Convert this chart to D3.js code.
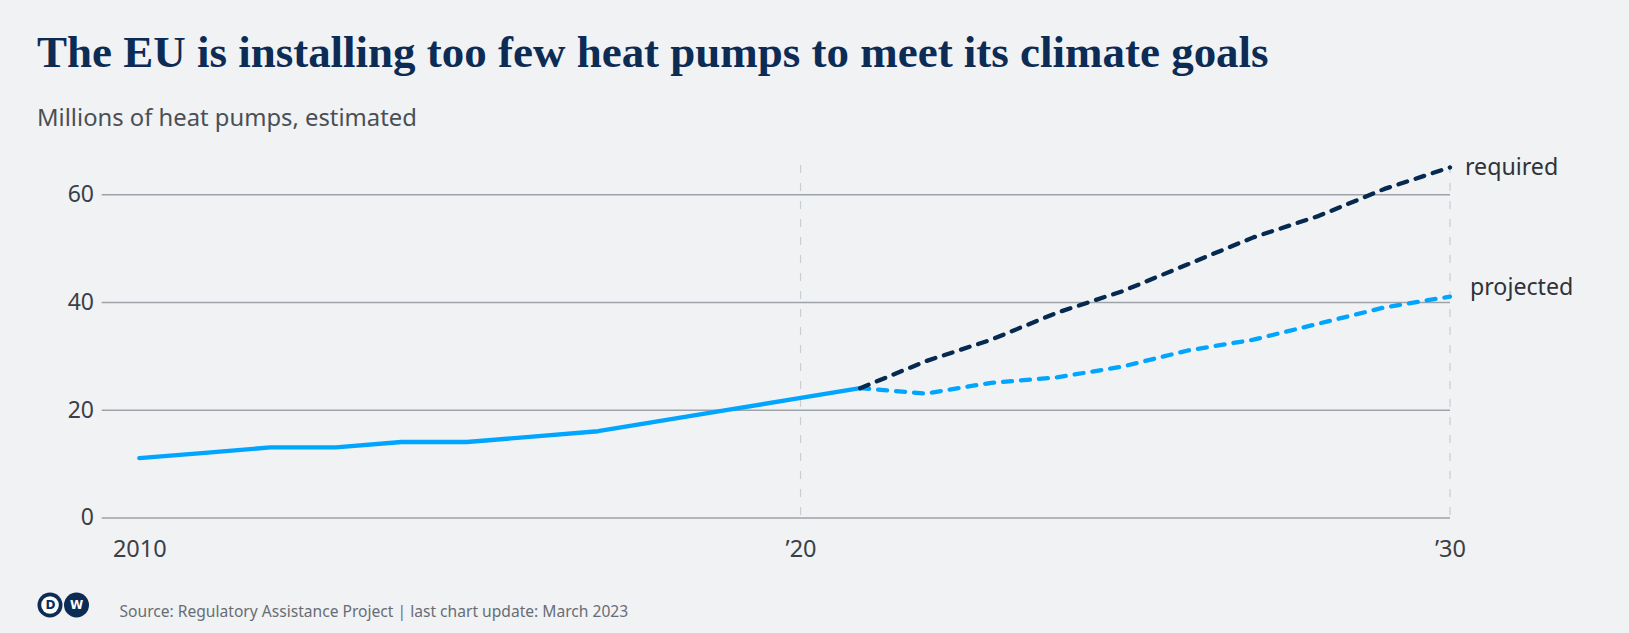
<!DOCTYPE html>
<html><head><meta charset="utf-8">
<script src="https://cdn.jsdelivr.net/npm/d3@7"></script>
<style>
html,body{margin:0;padding:0;background:#f1f2f4;}
svg{display:block;font-family:"Noto Sans",sans-serif;}
</style></head><body>
<svg id="chart" width="1629" height="633"></svg>
<script>
// ---- data ----
const historicYears  = [2010,2011,2012,2013,2014,2015,2016,2017,2018,2019,2020,2021];
const historicValues = [11,12,13,13,14,14,15,16,18,20,22,24];
const forecastYears   = [2021,2022,2023,2024,2025,2026,2027,2028,2029,2030];
const projectedValues = [24,23,25,26,28,31,33,36,39,41];
const requiredValues  = [24,29,33,38,42,47,52,56,61,65];
const yTicks = [0,20,40,60];
// the '20 marker sits slightly right of the 2020 data point in the original
const xTicks = [2010,2020.09,2030];
const xTickLabels = ["2010","\u201920","\u201930"];
const guideYears = [2020.09,2030];
const title = "The EU is installing too few heat pumps to meet its climate goals";
const subtitle = "Millions of heat pumps, estimated";
const source = "Source: Regulatory Assistance Project | last chart update: March 2023";

// ---- layout ----
const svg = d3.select("#chart");
const W = 1629, H = 633;
const gridLeft = 101.7, plotRight = 1450, plotTop = 165;
const x = d3.scaleLinear().domain([2010,2030]).range([139.3,1450]);
const y = d3.scaleLinear().domain([0,60]).range([517.4,194.3]);

svg.append("rect").attr("width",W).attr("height",H).attr("fill","#f1f2f4");

// title
const t = svg.append("text").attr("x",37).attr("y",66.5)
  .attr("font-family","'Liberation Serif',serif").attr("font-weight","bold")
  .attr("font-size",42).attr("fill","#0c2c55").text(title);
const tl = t.node().getComputedTextLength();
t.attr("font-size", 42*1232/tl);

svg.append("text").attr("x",37).attr("y",126).attr("font-size",23.8)
  .attr("fill","#4a4f57").text(subtitle);

// y axis with gridlines
const yAxis = d3.axisLeft(y).tickValues(yTicks)
  .tickSize(plotRight-gridLeft).tickPadding(7.7);
const gy = svg.append("g").attr("transform",`translate(${plotRight},0)`).call(yAxis);
gy.select(".domain").remove();
gy.selectAll("line").attr("stroke","#9ea2a9").attr("stroke-width",1.5);
gy.selectAll("text").attr("font-size",23).attr("fill","#3b3f46")
  .attr("font-family","'Noto Sans',sans-serif");

// vertical guide lines
svg.append("g").selectAll("line").data(guideYears).join("line")
  .attr("x1",d=>x(d)).attr("x2",d=>x(d)).attr("y1",plotTop).attr("y2",y(0))
  .attr("stroke","#c9ced5").attr("stroke-width",1.2).attr("stroke-dasharray","8,10");

// x axis labels
const xAxis = d3.axisBottom(x).tickValues(xTicks)
  .tickFormat((d,i)=>xTickLabels[i]).tickSize(0).tickPadding(22.6);
const gx = svg.append("g").attr("transform",`translate(0,${y(0)})`).call(xAxis);
gx.select(".domain").remove();
gx.selectAll("text").attr("font-size",23.5).attr("fill","#3b3f46")
  .attr("font-family","'Noto Sans',sans-serif");

// lines
const line = d3.line().x(d=>x(d[0])).y(d=>y(d[1]));
const hist = historicYears.map((yr,i)=>[yr,historicValues[i]]);
const proj = forecastYears.map((yr,i)=>[yr,projectedValues[i]]);
const req  = forecastYears.map((yr,i)=>[yr,requiredValues[i]]);

svg.append("path").datum(hist).attr("d",line).attr("fill","none")
  .attr("stroke","#00a5ff").attr("stroke-width",4.3)
  .attr("stroke-linecap","round").attr("stroke-linejoin","round");
svg.append("path").datum(proj).attr("d",line).attr("fill","none")
  .attr("stroke","#00a5ff").attr("stroke-width",4.3).attr("stroke-dasharray","9,9")
  .attr("stroke-linecap","round").attr("stroke-linejoin","round");
svg.append("path").datum(req).attr("d",line).attr("fill","none")
  .attr("stroke","#06294f").attr("stroke-width",4.3).attr("stroke-dasharray","9,9")
  .attr("stroke-linecap","round").attr("stroke-linejoin","round");

// series labels
const lastReq = req[req.length-1], lastProj = proj[proj.length-1];
svg.append("text").attr("x",x(lastReq[0])+15).attr("y",y(lastReq[1])).attr("dy","0.33em")
  .attr("font-size",23.2).attr("fill","#2f333a").text("required");
svg.append("text").attr("x",x(lastProj[0])+20).attr("y",y(lastProj[1])-9).attr("dy","0.33em")
  .attr("font-size",23.2).attr("fill","#2f333a").text("projected");

// footer: DW logo
const logo = svg.append("g").attr("transform","translate(0,605)");
logo.append("circle").attr("cx",50).attr("cy",0).attr("r",12.5).attr("fill","#0c2c55");
logo.append("circle").attr("cx",50).attr("cy",0).attr("r",8.8).attr("fill","#ffffff");
logo.append("text").attr("x",50.5).attr("y",0).attr("dy","0.36em").attr("text-anchor","middle")
  .attr("font-size",12).attr("font-weight","bold").attr("fill","#0c2c55")
  .attr("font-family","'DejaVu Sans',sans-serif").text("D");
logo.append("circle").attr("cx",76.5).attr("cy",0).attr("r",12.5).attr("fill","#0c2c55");
logo.append("text").attr("x",76.5).attr("y",0).attr("dy","0.36em").attr("text-anchor","middle")
  .attr("font-size",12).attr("font-weight","bold").attr("fill","#ffffff")
  .attr("font-family","'DejaVu Sans',sans-serif").text("W");

svg.append("text").attr("x",119.5).attr("y",617).attr("font-size",15.6)
  .attr("fill","#686d75").text(source);
</script>
</body></html>
